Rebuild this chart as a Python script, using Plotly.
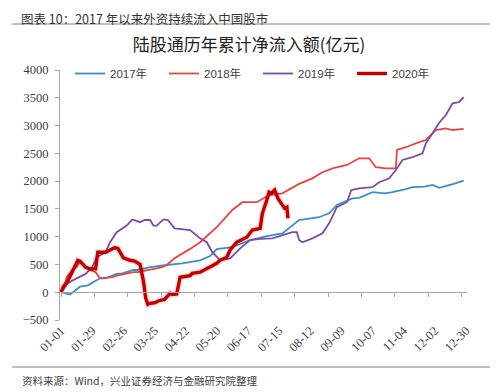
import plotly.graph_objects as go
import pandas as pd

# ---------------- data ----------------
tick_labels = ["01-01", "01-29", "02-26", "03-25", "04-22", "05-20", "06-17",
               "07-15", "08-12", "09-09", "10-07", "11-04", "12-02", "12-30"]

days_2017 = [0, 4, 8, 13, 17, 24, 35, 40, 50, 55, 65, 69, 80, 95, 109, 125, 134, 140, 154, 170,
             185, 199, 205, 214, 232, 241, 248, 262, 268, 280, 291, 298, 309, 316, 327, 334, 340,
             346, 353, 362]
vals_2017 = [0, -20, -40, 35, 100, 125, 250, 250, 330, 340, 400, 400, 450, 490, 520, 575, 650, 775,
             810, 940, 1010, 1060, 1150, 1300, 1350, 1420, 1570, 1690, 1700, 1800, 1780, 1800, 1850,
             1890, 1900, 1930, 1880, 1910, 1950, 2010]

days_2018 = [0, 3, 5, 10, 14, 17, 26, 31, 35, 46, 50, 60, 65, 69, 78, 91, 95, 102, 116, 125, 140,
             154, 163, 176, 187, 199, 214, 226, 235, 244, 257, 268, 277, 283, 292, 301, 302, 310,
             322, 328, 337, 346, 352, 362]
vals_2018 = [0, 100, 270, 400, 450, 550, 400, 360, 250, 270, 300, 340, 360, 360, 400, 450, 490, 610,
             780, 900, 1170, 1480, 1620, 1620, 1750, 1780, 1950, 2050, 2160, 2230, 2290, 2410, 2410,
             2250, 2230, 2230, 2560, 2610, 2700, 2740, 2920, 2950, 2920, 2940]

days_2019 = [0, 6, 11, 22, 28, 32, 40, 44, 50, 59, 64, 71, 75, 80, 83, 86, 92, 96, 102, 116, 125,
             131, 136, 143, 152, 161, 170, 179, 190, 199, 208, 212, 214, 217, 226, 235, 241, 248,
             257, 261, 268, 280, 286, 295, 301, 307, 316, 325, 328, 334, 340, 346, 352, 358, 362]
vals_2019 = [0, 160, 220, 330, 450, 630, 720, 900, 1080, 1200, 1310, 1260, 1300, 1300, 1200, 1200,
             1310, 1300, 1150, 1120, 970, 900, 720, 575, 610, 790, 940, 960, 970, 1030, 1080, 1080,
             940, 900, 970, 1060, 1240, 1530, 1620, 1840, 1870, 1890, 1980, 2050, 2200, 2380, 2430,
             2500, 2680, 2860, 3050, 3190, 3400, 3420, 3510]

days_2020 = [0, 2, 6, 11, 15, 17, 22, 26, 31, 33, 40, 44, 48, 51, 56, 62, 66, 71, 74, 76, 78, 80,
             84, 89, 93, 98, 100, 104, 107, 116, 118, 125, 131, 140, 143, 149, 152, 158, 167, 172,
             179, 181, 185, 187, 189, 192, 195, 198, 201, 203, 204]
vals_2020 = [0, 100, 200, 400, 575, 560, 450, 420, 420, 720, 720, 760, 800, 790, 620, 575, 560, 500,
             200, -100, -220, -200, -190, -145, -130, -20, -40, -30, 270, 300, 340, 360, 430, 520,
             575, 630, 760, 900, 990, 1120, 1150, 1420, 1660, 1800, 1780, 1840, 1690, 1600, 1510,
             1530, 1330]

series_names = ["2017年", "2018年", "2019年", "2020年"]

# ---------------- figure ----------------
tick_days = [(pd.Timestamp("2020-" + t) - pd.Timestamp("2020-01-01")).days for t in tick_labels]

colors = ["#3C8DC9", "#E8453F", "#7D4AA8", "#C00000"]
widths = [1.8, 1.8, 1.8, 3.4]
all_days = [days_2017, days_2018, days_2019, days_2020]
all_vals = [vals_2017, vals_2018, vals_2019, vals_2020]

fig = go.Figure()
for i in range(4):
    if i == 3:
        # soft shadow under the 2020 line
        fig.add_trace(go.Scatter(x=all_days[i], y=all_vals[i], mode="lines",
                                 line=dict(color="rgba(120,0,0,0.12)", width=6.5),
                                 showlegend=False, hoverinfo="skip"))
    fig.add_trace(go.Scatter(x=all_days[i], y=all_vals[i], mode="lines", name=series_names[i],
                             line=dict(color=colors[i], width=widths[i])))

# dummy trace to realise the zero-crossing axis
fig.add_trace(go.Scatter(x=[None], y=[None], xaxis="x2", showlegend=False, hoverinfo="skip"))

# page body adds an 8px offset; positions below are in figure pixels
OFF = 8
W, H = 500, 392
L, T = 60 - OFF, 70 - OFF
R, B = W - (467 - OFF), H - (320 - OFF)
pw, ph = W - L - R, H - T - B

def px(x):
    return (x - OFF - L) / pw

def py(y):
    return (H - B - (y - OFF)) / ph

axis_font = dict(family="Liberation Serif, serif", size=12.5, color="#404040")

fig.update_layout(
    width=W, height=H,
    margin=dict(l=L, r=R, t=T, b=B, autoexpand=False),
    paper_bgcolor="white", plot_bgcolor="white",
    title=dict(text="陆股通历年累计净流入额(亿元)", x=(249 - OFF) / W, xref="container",
               xanchor="center", y=1 - (45 - OFF) / H, yref="container", yanchor="middle",
               font=dict(family="Noto Sans CJK SC", size=17, color="#222222")),
    legend=dict(orientation="h", xref="container", yref="container", x=(70 - OFF) / W,
                y=1 - (59 - OFF) / H, xanchor="left", yanchor="top", entrywidth=49,
                entrywidthmode="pixels",
                font=dict(family="Liberation Sans, Noto Sans CJK SC", size=11.5, color="#404040"),
                itemwidth=30, bgcolor="rgba(0,0,0,0)", tracegroupgap=0),
    xaxis=dict(range=[-1, 365], tickmode="array", tickvals=tick_days, ticktext=tick_labels,
               tickangle=-45, showline=False, showgrid=False, zeroline=False, ticks="",
               tickfont=axis_font, automargin=False),
    xaxis2=dict(range=[-1, 365], overlaying="x", anchor="free", position=1 / 9,
                showline=True, linecolor="#A6A6A6", linewidth=1, ticks="outside", ticklen=4,
                tickcolor="#A6A6A6", tick0=0, dtick=30, showticklabels=False, showgrid=False,
                zeroline=False, automargin=False),
    yaxis=dict(range=[-500, 4000], dtick=500, tick0=0, showline=True, linecolor="#A6A6A6",
               linewidth=1, ticks="outside", ticklen=4, tickcolor="#A6A6A6", showgrid=False,
               zeroline=False, tickfont=axis_font, ticklabelstandoff=4, automargin=False),
    showlegend=True,
)

# header, rules and footer
fig.add_annotation(text="图表 10：2017 年以来外资持续流入中国股市", xref="paper", yref="paper",
                   x=px(20), y=py(OFF), xanchor="left", yanchor="top", showarrow=False,
                   borderpad=0, font=dict(family="Noto Sans CJK SC", size=12.5, color="#333333"))
fig.add_shape(type="line", xref="paper", yref="paper", x0=px(12), x1=px(490), y0=py(24), y1=py(24),
              line=dict(color="#808080", width=1))
fig.add_shape(type="line", xref="paper", yref="paper", x0=px(12), x1=px(490), y0=py(367), y1=py(367),
              line=dict(color="#808080", width=1))
fig.add_annotation(text="资料来源：Wind，兴业证券经济与金融研究院整理", xref="paper", yref="paper",
                   x=px(20), y=py(380), xanchor="left", yanchor="middle", showarrow=False,
                   font=dict(family="Noto Sans CJK SC", size=10.5, color="#404040"))

fig.write_html("out.html")
